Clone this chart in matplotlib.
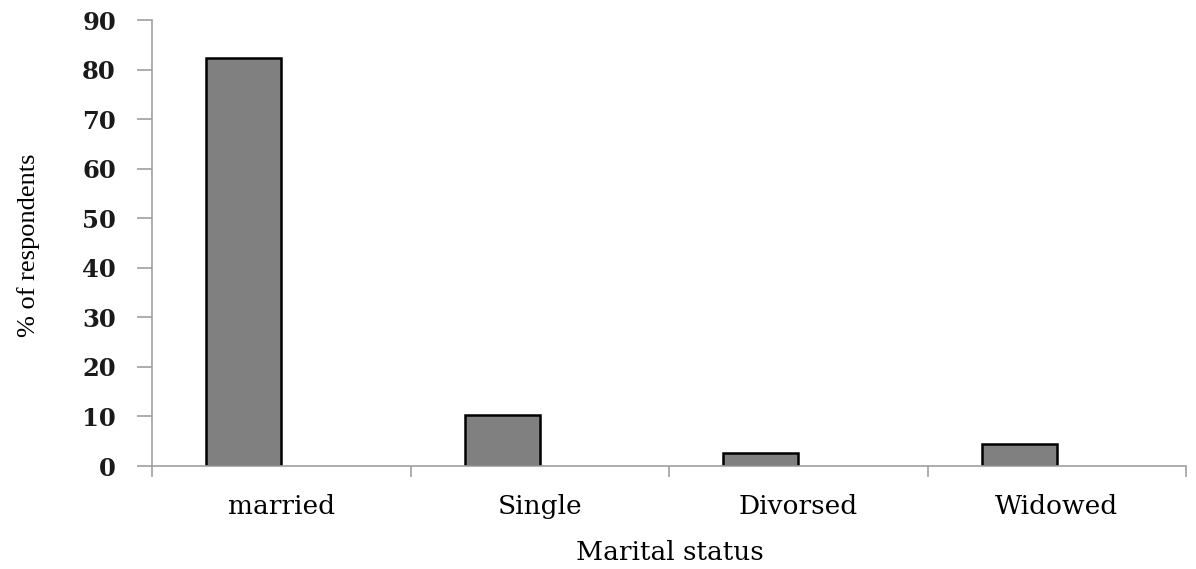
import matplotlib
matplotlib.use("Agg")
import matplotlib.pyplot as plt
import numpy as np

categories = ["married", "Single", "Divorsed", "Widowed"]
values = [82.3, 10.2, 2.6, 4.4]
yticks = [0, 10, 20, 30, 40, 50, 60, 70, 80, 90]

plt.rcParams['font.family'] = ['DejaVu Serif', 'Liberation Serif']

fig = plt.figure(figsize=(11.96, 5.69), dpi=100)
ax = fig.add_axes([152/1196, 1-466/569, (1186-152)/1196, (466-20)/569])

x = np.arange(len(categories))
bw = 0.29
ax.bar(x - bw/2, values, width=bw, color="#808080", edgecolor="black", linewidth=1.8, align="center")

ax.set_xlim(-0.5, len(categories) - 0.5)
ax.set_ylim(0, 90)
ax.set_yticks(yticks)
ax.set_yticklabels([str(t) for t in yticks], fontsize=17.5, fontweight="bold", color="#1a1a1a")
ax.set_xticks(x)
ax.set_xticklabels(categories, fontsize=19)
ax.set_xticks(np.arange(len(categories) + 1) - 0.5, minor=True)
ax.tick_params(axis="x", which="major", length=0, pad=20)
ax.tick_params(axis="x", which="minor", length=8, color="#a0a0a0", width=1.2)
ax.tick_params(axis="y", which="major", length=11, color="#a0a0a0", width=1.2, pad=15)

for s in ["top", "right"]:
    ax.spines[s].set_visible(False)
for s in ["left", "bottom"]:
    ax.spines[s].set_color("#a0a0a0")
    ax.spines[s].set_linewidth(1.2)

fig.text(670/1196, 1-553/569, "Marital status", fontsize=19, ha="center", va="center")
fig.text(29/1196, 1-245/569, "% of respondents", rotation=90, fontsize=19,
         ha="center", va="center", family="Liberation Serif")

fig.savefig("out.png", dpi=100)
